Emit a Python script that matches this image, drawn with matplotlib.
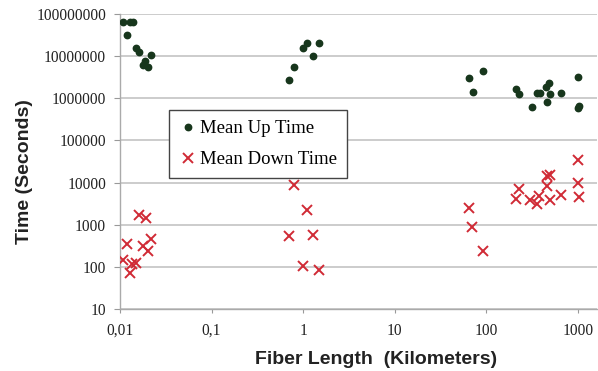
import matplotlib
matplotlib.use("Agg")
import matplotlib.pyplot as plt

# ---- data ----
up_x = [0.0109, 0.0128, 0.0139, 0.0120, 0.0148, 0.0160, 0.0216, 0.0189, 0.0177, 0.0200,
        1.09, 1.49, 0.99, 1.29, 0.80, 0.70,
        64, 92.5, 70.6, 212, 228, 313, 356, 380, 443, 481, 457, 489, 656, 995, 1030, 1010]
up_y = [6.35e7, 6.35e7, 6.35e7, 3.18e7, 1.56e7, 1.23e7, 1.05e7, 7.8e6, 6.27e6, 5.5e6,
        2.08e7, 2.08e7, 1.56e7, 1.02e7, 5.6e6, 2.67e6,
        3.08e6, 4.43e6, 1.43e6, 1.66e6, 1.24e6, 6.1e5, 1.31e6, 1.35e6, 1.85e6, 2.27e6,
        8.0e5, 1.24e6, 1.35e6, 3.2e6, 6.7e5, 6.0e5]

down_x = [0.0161, 0.0191, 0.0118, 0.0218, 0.0177, 0.0200, 0.0109, 0.0135, 0.0148, 0.0128,
          0.80, 1.09, 0.70, 1.29, 0.99, 1.49,
          995, 457, 489, 1010, 457, 228, 212, 374, 301, 356, 489, 656, 1030, 64, 70, 92.5]
down_y = [1700, 1465, 343, 451, 313, 242, 145, 115, 125, 70,
          8750, 2270, 540, 570, 106, 84,
          34300, 14300, 14800, 9600, 8280, 7030, 4070, 4870, 3790, 3050, 3790, 4990, 4540,
          2490, 900, 242]

series_labels = ["Mean Up Time", "Mean Down Time"]
x_ticks = [0.01, 0.1, 1, 10, 100, 1000]
x_tick_labels = ["0,01", "0,1", "1", "10", "100", "1000"]
y_ticks = [10, 100, 1000, 10000, 100000, 1000000, 10000000, 100000000]
y_tick_labels = ["10", "100", "1000", "10000", "100000", "1000000", "10000000", "100000000"]
x_title = "Fiber Length  (Kilometers)"
y_title = "Time (Seconds)"

# ---- figure ----
fig = plt.figure(figsize=(5.98, 3.71), dpi=100)
ax = fig.add_axes([120/598, 1-309/371, 477/598, 295/371])

ax.set_xscale("log")
ax.set_yscale("log")
ax.set_xlim(0.01, 1610)
ax.set_ylim(10, 1e8)

ax.plot(up_x, up_y, linestyle="none", marker="o", markersize=4.6,
        color="#17361c", label=series_labels[0], zorder=3)
ax.plot(down_x, down_y, linestyle="none", marker="x", markersize=6.5, markeredgewidth=1.4,
        color="#d02a35", label=series_labels[1], zorder=3)

ax.set_xticks(x_ticks)
ax.set_xticklabels(x_tick_labels)
ax.set_yticks(y_ticks)
ax.set_yticklabels(y_tick_labels)
ax.minorticks_off()

for lab in ax.get_xticklabels() + ax.get_yticklabels():
    lab.set_fontfamily("Liberation Serif")
    lab.set_fontsize(11.2)
    lab.set_color("#222222")

ax.tick_params(axis="y", length=4, width=0.8, color="#999999", pad=6)
ax.tick_params(axis="x", length=3, width=0.8, color="#999999", pad=7)

ax.grid(axis="y", color="#c4c4c4", linewidth=1.2)
ax.set_axisbelow(True)
for s in ["top", "right"]:
    ax.spines[s].set_visible(False)
for s in ["left", "bottom"]:
    ax.spines[s].set_color("#aaaaaa")
    ax.spines[s].set_linewidth(1.0)

ax.set_xlabel(x_title, fontfamily="Liberation Sans", fontweight="bold", fontsize=14,
              color="#222222")
ax.set_ylabel(y_title, fontfamily="Liberation Sans", fontweight="bold", fontsize=14,
              color="#222222")
ax.yaxis.set_label_coords((33 - 120) / 477, (309 - 172) / 295)
ax.xaxis.set_label_coords((376 - 120) / 477, -(351 - 309) / 295)

leg = ax.legend(loc="upper left", bbox_to_anchor=(49/477, (309-110)/295),
                prop={"family": "Liberation Serif", "size": 13.5},
                frameon=True, fancybox=False, edgecolor="#444444", framealpha=1,
                borderpad=0.55, labelspacing=0.72, handlelength=0.9, handletextpad=0.2,
                borderaxespad=0)
leg.get_frame().set_linewidth(1.0)

fig.savefig("out.png", dpi=100)
